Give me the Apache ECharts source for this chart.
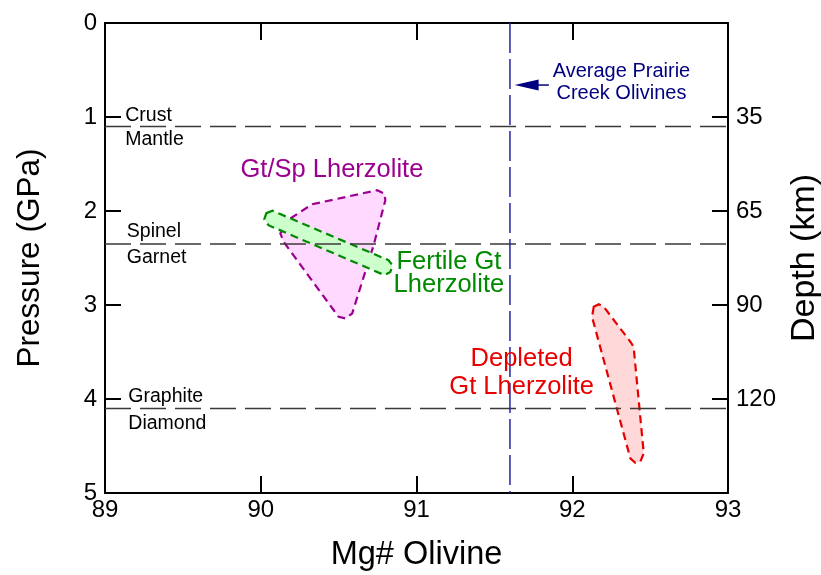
<!DOCTYPE html>
<html>
<head>
<meta charset="utf-8">
<script src="https://cdn.jsdelivr.net/npm/echarts@6/dist/echarts.min.js"></script>
<style>
html,body{margin:0;padding:0;background:#fff;}
#chart{width:821px;height:575px;}
</style>
</head>
<body>
<div id="chart"></div>
<script>
// ---- Data ----
const xTicks = [89, 90, 91, 92, 93];
const pressureTicks = [0, 1, 2, 3, 4, 5];
const depthLabels = ['', '35', '65', '90', '120', ''];

// Phase boundaries (pressure, GPa)
const boundaryPressures = [1.1, 2.35, 4.1];
const boundaryNames = ['Crust', 'Mantle', 'Spinel', 'Garnet', 'Graphite', 'Diamond'];
const boundaryLabelX = [89.13, 89.13, 89.14, 89.14, 89.15, 89.15];
const boundaryLabelP = [0.99, 1.24, 2.215, 2.50, 3.976, 4.26];

// Average Prairie Creek olivine Mg#
const avgPrairieMg = 91.60;
const arrowTail = [91.85, 0.66];
const arrowTip = [91.63, 0.66];

// Field outlines [Mg#, P]
const gtSpField = [[90.19,2.08],[90.33,1.928],[90.747,1.779],[90.794,1.814],[90.80,1.885],[90.725,2.363],[90.587,3.09],[90.543,3.143],[90.50,3.126],[90.147,2.328],[90.126,2.239]];
const fertileField = [[90.036,2.023],[90.075,1.997],[90.82,2.523],[90.845,2.576],[90.832,2.65],[90.794,2.682],[90.049,2.151],[90.023,2.087]];
const depletedField = [[92.138,3.019],[92.17,2.991],[92.202,3.019],[92.373,3.391],[92.394,3.445],[92.459,4.578],[92.437,4.667],[92.405,4.678],[92.373,4.631],[92.127,3.126]];

// Field labels [Mg#, P, text]
const gtSpLabels = [[90.457, 1.566, 'Gt/Sp Lherzolite']];
const fertileLabels = [[91.208, 2.54, 'Fertile Gt'], [91.208, 2.785, 'Lherzolite']];
const depletedLabels = [[91.675, 3.575, 'Depleted'], [91.675, 3.876, 'Gt Lherzolite']];
const avgLabels = [[92.316, 0.52, 'Average Prairie'], [92.316, 0.75, 'Creek Olivines']];

// ---- Styles ----
const FF = '"Liberation Sans", Arial, sans-serif';
const magenta = '#9c0090', green = '#008a00', red = '#e80000', navy = '#000080';

function polygonSeries(pts, stroke, fill) {
  return {
    type: 'custom', xAxisIndex: 0, yAxisIndex: 0, z: 2, silent: true,
    data: pts, encode: { x: 0, y: 1 },
    renderItem: function (params, api) {
      if (params.dataIndex !== 0) return null;
      return {
        type: 'polygon',
        shape: { points: pts.map(p => api.coord(p)), smooth: 0 },
        style: { fill: fill, stroke: stroke, lineWidth: 2.2, lineDash: [8, 5] }
      };
    }
  };
}

function textSeries(items, color, size, align) {
  return {
    type: 'custom', xAxisIndex: 0, yAxisIndex: 0, z: 5, silent: true, clip: false,
    data: items.map(d => [d[0], d[1]]), encode: { x: 0, y: 1 },
    renderItem: function (params, api) {
      const d = items[params.dataIndex];
      const c = api.coord([d[0], d[1]]);
      return {
        type: 'text', x: c[0], y: c[1],
        style: { text: d[2], fill: color, font: size + 'px ' + FF, align: align, verticalAlign: 'middle' }
      };
    }
  };
}

const boundaryTextItems = boundaryNames.map((n, i) => [boundaryLabelX[i], boundaryLabelP[i], n]);

const series = [
  polygonSeries(gtSpField, magenta, '#ffd9ff'),
  polygonSeries(fertileField, green, '#ccffcc'),
  polygonSeries(depletedField, red, '#ffd9d9')
];

boundaryPressures.forEach(p => {
  series.push({
    type: 'line', xAxisIndex: 0, yAxisIndex: 0, z: 3, silent: true,
    data: [[89, p], [93, p]], symbol: 'none',
    lineStyle: { color: '#3a3a3a', width: 1.5, type: [26, 9] }
  });
});

series.push({
  type: 'line', xAxisIndex: 0, yAxisIndex: 0, z: 3, silent: true,
  data: [[avgPrairieMg, 0], [avgPrairieMg, 5]], symbol: 'none',
  lineStyle: { color: '#2525a0', width: 1.5, type: [30, 6] }
});

// arrow
series.push({
  type: 'custom', xAxisIndex: 0, yAxisIndex: 0, z: 4, silent: true,
  data: [arrowTail, arrowTip], encode: { x: 0, y: 1 },
  renderItem: function (params, api) {
    if (params.dataIndex !== 0) return null;
    const t = api.coord(arrowTail), h = api.coord(arrowTip);
    const headLen = 24, headHalf = 5.5;
    return {
      type: 'group', children: [
        { type: 'line', shape: { x1: t[0], y1: t[1], x2: h[0] + headLen - 2, y2: h[1] }, style: { stroke: navy, lineWidth: 1.5 } },
        { type: 'polygon', shape: { points: [[h[0], h[1]], [h[0] + headLen, h[1] - headHalf], [h[0] + headLen, h[1] + headHalf]] }, style: { fill: navy } }
      ]
    };
  }
});

series.push(textSeries(boundaryTextItems, '#000', 19.5, 'left'));
series.push(textSeries(gtSpLabels, magenta, 25.5, 'center'));
series.push(textSeries(fertileLabels, green, 25.5, 'center'));
series.push(textSeries(depletedLabels, red, 25.5, 'center'));
series.push(textSeries(avgLabels, navy, 20, 'center'));

const axisLineStyle = { color: '#000', width: 2 };
const tickStyle = { color: '#000', width: 2 };

const option = {
  animation: false,
  backgroundColor: '#fff',
  grid: { left: 105, right: 93, top: 23, bottom: 82, containLabel: false, outerBoundsMode: 'none' },
  xAxis: [
    {
      type: 'value', min: xTicks[0], max: xTicks[xTicks.length - 1], interval: 1, position: 'bottom',
      axisLine: { onZero: false, lineStyle: axisLineStyle }, axisTick: { inside: true, length: 17, lineStyle: tickStyle },
      axisLabel: { color: '#000', fontSize: 24, fontFamily: FF, margin: 5 },
      splitLine: { show: false },
      name: 'Mg# Olivine', nameLocation: 'middle', nameGap: 46,
      nameTextStyle: { color: '#000', fontSize: 32.5, fontFamily: FF }
    },
    {
      type: 'value', min: xTicks[0], max: xTicks[xTicks.length - 1], interval: 1, position: 'top',
      axisLine: { onZero: false, lineStyle: axisLineStyle }, axisTick: { inside: true, length: 17, lineStyle: tickStyle },
      axisLabel: { show: false }, splitLine: { show: false }
    }
  ],
  yAxis: [
    {
      type: 'value', inverse: true, min: pressureTicks[0], max: pressureTicks[pressureTicks.length - 1], interval: 1, position: 'left',
      axisLine: { onZero: false, lineStyle: axisLineStyle }, axisTick: { inside: true, length: 16, lineStyle: tickStyle },
      axisLabel: { color: '#000', fontSize: 24, fontFamily: FF, margin: 8 },
      splitLine: { show: false },
      name: 'Pressure (GPa)', nameLocation: 'middle', nameGap: 59, nameRotate: 90,
      nameTextStyle: { color: '#000', fontSize: 31.5, fontFamily: FF }
    },
    {
      type: 'value', inverse: true, min: pressureTicks[0], max: pressureTicks[pressureTicks.length - 1], interval: 1, position: 'right',
      axisLine: { onZero: false, lineStyle: axisLineStyle }, axisTick: { inside: true, length: 16, lineStyle: tickStyle },
      axisLabel: { color: '#000', fontSize: 24, fontFamily: FF, margin: 8, formatter: v => depthLabels[Math.round(v)] },
      splitLine: { show: false },
      name: 'Depth (km)', nameLocation: 'middle', nameGap: 60, nameRotate: 90,
      nameTextStyle: { color: '#000', fontSize: 34, fontFamily: FF }
    }
  ],
  series: series
};

const chart = echarts.init(document.getElementById('chart'), null, { renderer: 'canvas' });
chart.setOption(option);
</script>
</body>
</html>
